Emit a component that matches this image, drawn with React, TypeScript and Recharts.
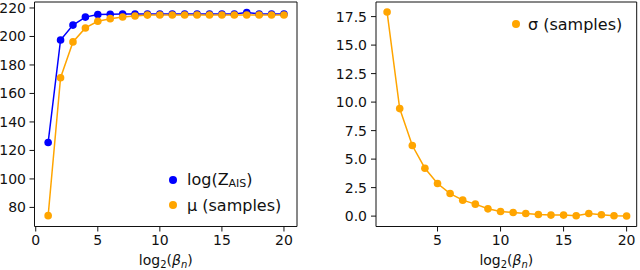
import React from 'react';
import { LineChart, Line, XAxis, YAxis, ReferenceArea } from 'recharts';

const STEPS = [1, 2, 3, 4, 5, 6, 7, 8, 9, 10, 11, 12, 13, 14, 15, 16, 17, 18, 19, 20];
const LOG_Z_AIS = [125.6, 197.5, 208.0, 213.6, 215.4, 215.6, 215.8, 215.8, 215.8, 215.8, 215.8, 215.8, 215.8, 215.8, 215.8, 215.8, 216.8, 215.8, 215.8, 215.8];
const MU_SAMPLES = [74.2, 171.0, 196.2, 206.0, 210.7, 212.5, 213.7, 214.4, 215.0, 215.1, 215.1, 215.1, 215.1, 215.1, 215.1, 215.1, 215.1, 215.1, 215.1, 215.1];
const SIGMA_SAMPLES = [17.9, 9.43, 6.19, 4.2, 2.86, 1.98, 1.4, 1.05, 0.64, 0.4, 0.32, 0.23, 0.14, 0.09, 0.09, 0.03, 0.23, 0.12, 0.03, 0.01];

const LEFT_X_TICKS = [0, 5, 10, 15, 20];
const LEFT_Y_TICKS = [80, 100, 120, 140, 160, 180, 200, 220];
const RIGHT_X_TICKS = [5, 10, 15, 20];
const RIGHT_Y_TICKS = [0, 2.5, 5, 7.5, 10, 12.5, 15, 17.5];

const LEFT_X_DOMAIN: [number, number] = [-0.1, 21.05];
const LEFT_Y_DOMAIN: [number, number] = [66.6, 224.2];
const RIGHT_X_DOMAIN: [number, number] = [0.12, 20.8];
const RIGHT_Y_DOMAIN: [number, number] = [-0.91, 18.78];

const BLUE = '#0000ff';
const ORANGE = '#ffa500';
const FONT = '"DejaVu Sans", sans-serif';
const TICK = { fontSize: 14, fill: '#111', fontFamily: FONT };

const leftData = STEPS.map((s, i) => ({ step: s, logz: LOG_Z_AIS[i], mu: MU_SAMPLES[i] }));
const rightData = STEPS.map((s, i) => ({ step: s, sigma: SIGMA_SAMPLES[i] }));

// eslint-disable-next-line @typescript-eslint/no-explicit-any
function BetaLabel(props: any) {
  const { viewBox } = props;
  if (!viewBox) return null;
  const cx = viewBox.x + viewBox.width / 2;
  return (
    <text x={cx} y={viewBox.y + 38} textAnchor="middle" fontFamily={FONT} fontSize={14} fill="#111">
      log<tspan dy={3} fontSize={10}>2</tspan>
      <tspan dy={-3}>(</tspan>
      <tspan fontStyle="italic">β</tspan>
      <tspan dy={3} fontSize={10} fontStyle="italic">n</tspan>
      <tspan dy={-3}>)</tspan>
    </text>
  );
}

function Dot({ color }: { color: string }) {
  return (
    <svg width={10} height={10} style={{ display: 'block' }}>
      <circle cx={5} cy={5} r={4} fill={color} />
    </svg>
  );
}

const legendRow: React.CSSProperties = {
  position: 'absolute',
  display: 'flex',
  alignItems: 'center',
  gap: 5,
  fontFamily: FONT,
  fontSize: 16,
  color: '#111',
  whiteSpace: 'nowrap',
  height: 20,
};

export default function App() {
  return (
    <div style={{ position: 'absolute', left: 0, top: 0, width: 640, height: 270, background: '#fff' }}>
      {/* left panel */}
      <div style={{ position: 'absolute', left: 0, top: 0 }}>
        <LineChart width={300} height={270} data={leftData} margin={{ top: 2, right: 3, left: 0, bottom: 0 }}>
          <XAxis
            dataKey="step"
            type="number"
            domain={LEFT_X_DOMAIN}
            ticks={LEFT_X_TICKS}
            allowDataOverflow
            axisLine={false}
            tickSize={5}
            tickMargin={4}
            tick={TICK}
            tickLine={{ stroke: '#111' }}
            height={43.5}
            label={<BetaLabel />}
          />
          <YAxis
            type="number"
            domain={LEFT_Y_DOMAIN}
            ticks={LEFT_Y_TICKS}
            allowDataOverflow
            axisLine={false}
            tickSize={5}
            tickMargin={3.5}
            tick={TICK}
            tickLine={{ stroke: '#111' }}
            width={34.5}
          />
          <ReferenceArea
            x1={LEFT_X_DOMAIN[0]}
            x2={LEFT_X_DOMAIN[1]}
            y1={LEFT_Y_DOMAIN[0]}
            y2={LEFT_Y_DOMAIN[1]}
            fill="none"
            stroke="#111"
            strokeWidth={1}
            fillOpacity={0}
            strokeOpacity={1}
          />
          <Line
            dataKey="logz"
            stroke={BLUE}
            strokeWidth={1.5}
            dot={{ r: 3.8, fill: BLUE, stroke: BLUE, strokeWidth: 0 }}
            isAnimationActive={false}
          />
          <Line
            dataKey="mu"
            stroke={ORANGE}
            strokeWidth={1.5}
            dot={{ r: 3.8, fill: ORANGE, stroke: ORANGE, strokeWidth: 0 }}
            isAnimationActive={false}
          />
        </LineChart>
      </div>

      {/* right panel */}
      <div style={{ position: 'absolute', left: 320, top: 0 }}>
        <LineChart width={320} height={270} data={rightData} margin={{ top: 2, right: 3.3, left: 0, bottom: 0 }}>
          <XAxis
            dataKey="step"
            type="number"
            domain={RIGHT_X_DOMAIN}
            ticks={RIGHT_X_TICKS}
            allowDataOverflow
            axisLine={false}
            tickSize={5}
            tickMargin={4}
            tick={TICK}
            tickLine={{ stroke: '#111' }}
            height={43.5}
            label={<BetaLabel />}
          />
          <YAxis
            type="number"
            domain={RIGHT_Y_DOMAIN}
            ticks={RIGHT_Y_TICKS}
            tickFormatter={(v: number) => v.toFixed(1)}
            allowDataOverflow
            axisLine={false}
            tickSize={5}
            tickMargin={4}
            tick={TICK}
            tickLine={{ stroke: '#111' }}
            width={56}
          />
          <ReferenceArea
            x1={RIGHT_X_DOMAIN[0]}
            x2={RIGHT_X_DOMAIN[1]}
            y1={RIGHT_Y_DOMAIN[0]}
            y2={RIGHT_Y_DOMAIN[1]}
            fill="none"
            stroke="#111"
            strokeWidth={1}
            fillOpacity={0}
            strokeOpacity={1}
          />
          <Line
            dataKey="sigma"
            stroke={ORANGE}
            strokeWidth={1.5}
            dot={{ r: 3.8, fill: ORANGE, stroke: ORANGE, strokeWidth: 0 }}
            isAnimationActive={false}
          />
        </LineChart>
      </div>

      {/* legends */}
      <div style={{ ...legendRow, left: 168, top: 170 }}>
        <Dot color={BLUE} />
        <span style={{ marginLeft: 4 }}>
          log(Z<span style={{ fontSize: 11, verticalAlign: '-0.2em' }}>AIS</span>)
        </span>
      </div>
      <div style={{ ...legendRow, left: 168, top: 195 }}>
        <Dot color={ORANGE} />
        <span style={{ marginLeft: 4 }}>μ (samples)</span>
      </div>
      <div style={{ ...legendRow, left: 511, top: 14 }}>
        <Dot color={ORANGE} />
        <span style={{ marginLeft: 2 }}>σ (samples)</span>
      </div>
    </div>
  );
}
